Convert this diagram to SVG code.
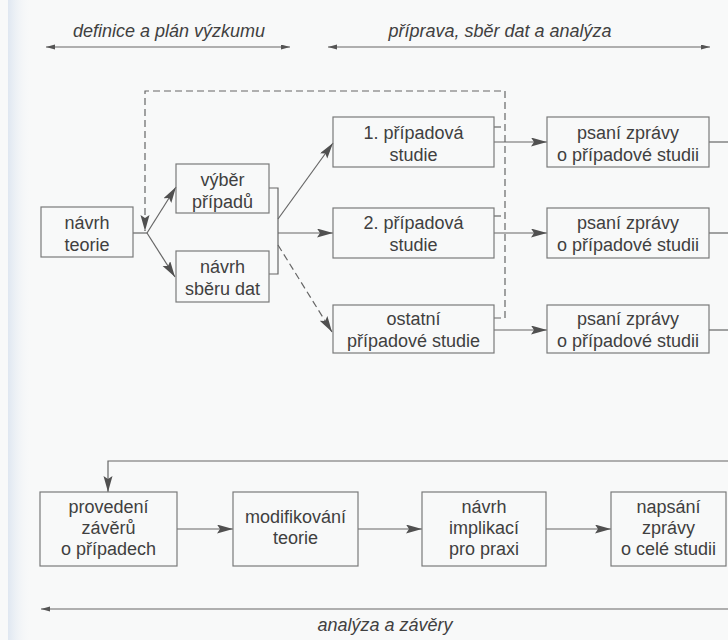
<svg xmlns="http://www.w3.org/2000/svg" width="728" height="640" viewBox="0 0 728 640">
  <defs>
    <marker id="head" markerUnits="userSpaceOnUse" markerWidth="17" markerHeight="10" refX="16" refY="4.5" orient="auto">
      <path d="M0,0 L16,4.5 L0,9 L3,4.5 z" fill="#505050"/>
    </marker>
    <marker id="tick" markerUnits="userSpaceOnUse" markerWidth="10" markerHeight="6" refX="9" refY="2.5" orient="auto-start-reverse">
      <path d="M0,0 L9,2.5 L0,5 z" fill="#555"/>
    </marker>
    <linearGradient id="edge" x1="0" y1="0" x2="1" y2="0">
      <stop offset="0" stop-color="#dfe7f1"/>
      <stop offset="1" stop-color="#f8f9f9" stop-opacity="0"/>
    </linearGradient>
    <style>
      .box { fill: none; stroke: #7a7a7a; stroke-width: 1.2; }
      .lbl { font-family: "Liberation Sans", Arial, sans-serif; font-size: 18px; fill: #404040; text-anchor: middle; }
      .phase { font-family: "Liberation Sans", Arial, sans-serif; font-size: 18px; font-style: italic; fill: #404040; text-anchor: middle; }
      .ln { fill: none; stroke: #666; stroke-width: 1.2; }
      .dash { fill: none; stroke: #666; stroke-width: 1.2; stroke-dasharray: 7 4; }
    </style>
  </defs>

  <!-- paper -->
  <rect x="0" y="0" width="728" height="640" fill="#f8f9f9"/>
  <rect x="8" y="0" width="24" height="640" fill="url(#edge)"/>

  <!-- phase bands -->
  <g id="phases">
    <text class="phase" x="169" y="37">definice a plán výzkumu</text>
    <line class="ln" x1="46" y1="47" x2="290" y2="47" marker-start="url(#tick)" marker-end="url(#tick)"/>
    <text class="phase" x="500" y="37">příprava, sběr dat a analýza</text>
    <line class="ln" x1="328" y1="47" x2="710" y2="47" marker-start="url(#tick)" marker-end="url(#tick)"/>
    <text class="phase" x="385" y="631">analýza a závěry</text>
    <line class="ln" x1="41" y1="609" x2="730" y2="609" marker-start="url(#tick)"/>
  </g>

  <!-- connectors -->
  <g id="connectors">
    <!-- feedback from case studies back to theory -->
    <path class="dash" d="M494,318 H505 V91 H145 V231" marker-end="url(#head)"/>
    <line class="dash" x1="494" y1="127" x2="505" y2="127"/>
    <line class="dash" x1="494" y1="216" x2="505" y2="216"/>
    <!-- theory to design -->
    <line class="ln" x1="133" y1="233" x2="147" y2="233"/>
    <line class="ln" x1="147" y1="233" x2="176" y2="187" marker-end="url(#head)"/>
    <line class="ln" x1="147" y1="233" x2="175" y2="277" marker-end="url(#head)"/>
    <!-- bracket joining the two design steps -->
    <path class="ln" d="M269,188 H278 V274 H269"/>
    <line class="ln" x1="278" y1="219" x2="333" y2="143" marker-end="url(#head)"/>
    <line class="ln" x1="278" y1="233" x2="333" y2="233" marker-end="url(#head)"/>
    <line class="dash" x1="278" y1="245" x2="332" y2="332" marker-end="url(#head)"/>
    <!-- case study to report -->
    <line class="ln" x1="494" y1="142" x2="547" y2="142" marker-end="url(#head)"/>
    <line class="ln" x1="494" y1="233" x2="547" y2="233" marker-end="url(#head)"/>
    <line class="ln" x1="494" y1="330" x2="547" y2="330" marker-end="url(#head)"/>
    <line class="ln" x1="709" y1="142" x2="728" y2="142"/>
    <line class="ln" x1="709" y1="233" x2="728" y2="233"/>
    <line class="ln" x1="709" y1="330" x2="728" y2="330"/>
    <!-- return into the conclusions row -->
    <path class="ln" d="M728,461 H108 V492" marker-end="url(#head)"/>
    <line class="ln" x1="177" y1="529" x2="233" y2="529" marker-end="url(#head)"/>
    <line class="ln" x1="358" y1="529" x2="422" y2="529" marker-end="url(#head)"/>
    <line class="ln" x1="546" y1="529" x2="611" y2="529" marker-end="url(#head)"/>
  </g>

  <!-- definition and design -->
  <g id="navrh-teorie">
    <rect class="box" x="41" y="207" width="92" height="50"/>
    <text class="lbl" x="87" y="229">návrh</text>
    <text class="lbl" x="87" y="251">teorie</text>
  </g>
  <g id="vyber-pripadu">
    <rect class="box" x="176" y="164" width="93" height="49"/>
    <text class="lbl" x="222.5" y="186">výběr</text>
    <text class="lbl" x="222.5" y="208">případů</text>
  </g>
  <g id="navrh-sberu-dat">
    <rect class="box" x="176" y="251" width="93" height="51"/>
    <text class="lbl" x="222.5" y="273">návrh</text>
    <text class="lbl" x="222.5" y="295">sběru dat</text>
  </g>

  <!-- case studies -->
  <g id="studie-1">
    <rect class="box" x="333" y="117" width="161" height="50"/>
    <text class="lbl" x="413.5" y="139">1. případová</text>
    <text class="lbl" x="413.5" y="161">studie</text>
  </g>
  <g id="studie-2">
    <rect class="box" x="333" y="208" width="161" height="50"/>
    <text class="lbl" x="413.5" y="229">2. případová</text>
    <text class="lbl" x="413.5" y="251">studie</text>
  </g>
  <g id="studie-ostatni">
    <rect class="box" x="333" y="305" width="161" height="48"/>
    <text class="lbl" x="413.5" y="325">ostatní</text>
    <text class="lbl" x="413.5" y="347">případové studie</text>
  </g>

  <!-- case reports -->
  <g id="zprava-1">
    <rect class="box" x="547" y="117" width="162" height="50"/>
    <text class="lbl" x="628" y="139">psaní zprávy</text>
    <text class="lbl" x="628" y="161">o případové studii</text>
  </g>
  <g id="zprava-2">
    <rect class="box" x="547" y="208" width="162" height="50"/>
    <text class="lbl" x="628" y="229">psaní zprávy</text>
    <text class="lbl" x="628" y="251">o případové studii</text>
  </g>
  <g id="zprava-ostatni">
    <rect class="box" x="547" y="305" width="162" height="48"/>
    <text class="lbl" x="628" y="325">psaní zprávy</text>
    <text class="lbl" x="628" y="347">o případové studii</text>
  </g>

  <!-- analysis and conclusions -->
  <g id="provedeni-zaveru">
    <rect class="box" x="40" y="492" width="137" height="74"/>
    <text class="lbl" x="108.5" y="513">provedení</text>
    <text class="lbl" x="108.5" y="534">závěrů</text>
    <text class="lbl" x="108.5" y="555">o případech</text>
  </g>
  <g id="modifikovani-teorie">
    <rect class="box" x="233" y="492" width="125" height="74"/>
    <text class="lbl" x="295.5" y="523">modifikování</text>
    <text class="lbl" x="295.5" y="544">teorie</text>
  </g>
  <g id="navrh-implikaci">
    <rect class="box" x="422" y="492" width="124" height="74"/>
    <text class="lbl" x="484" y="513">návrh</text>
    <text class="lbl" x="484" y="534">implikací</text>
    <text class="lbl" x="484" y="555">pro praxi</text>
  </g>
  <g id="napsani-zpravy">
    <rect class="box" x="611" y="492" width="115" height="74"/>
    <text class="lbl" x="668.5" y="513">napsání</text>
    <text class="lbl" x="668.5" y="534">zprávy</text>
    <text class="lbl" x="668.5" y="555">o celé studii</text>
  </g>
</svg>
